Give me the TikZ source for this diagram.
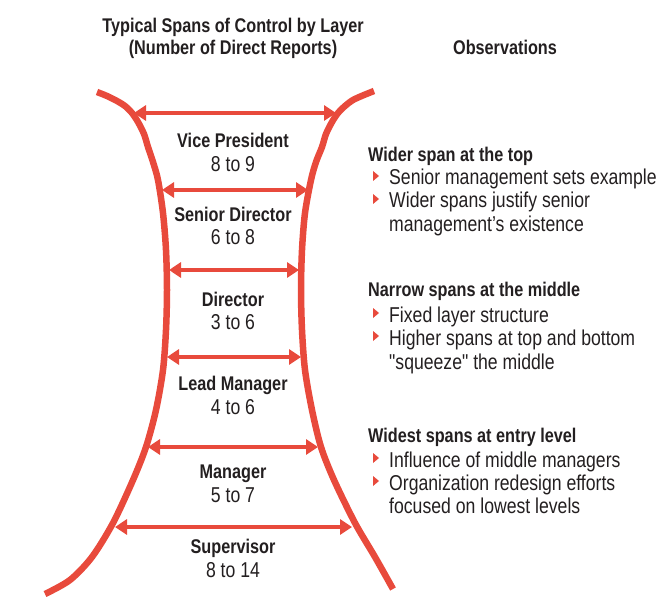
\documentclass[tikz,border=0pt]{standalone}
\usepackage{fontspec}
\setmainfont{Liberation Sans}[FakeStretch=0.82,Ligatures=TeXOff]
\usetikzlibrary{arrows.meta}
\definecolor{spanred}{RGB}{232,74,60}
\definecolor{ink}{RGB}{35,31,32}

\begin{document}
\begin{tikzpicture}[x=1pt,y=-1pt,
  every node/.append style={inner sep=0pt,text=ink},
  hull/.style={draw=spanred,line width=6.5pt},
  span/.style={draw=spanred,line width=4.5pt,{Triangle[length=12pt,width=15pt]}-{Triangle[length=12pt,width=15pt]}},
  lbl/.style={anchor=base,font=\fontsize{19.8}{22}\selectfont\bfseries},
  num/.style={anchor=base,font=\fontsize{21.5}{24}\selectfont},
  head/.style={anchor=base west,font=\fontsize{19.8}{22}\selectfont\bfseries},
  item/.style={anchor=base west,font=\fontsize{21.5}{24}\selectfont},
  bul/.pic={\fill[spanred] (0,-5) -- (6,0) -- (0,5) -- cycle;}]
  \useasboundingbox (0,0) rectangle (663,601);

  % titles
  \node[lbl] (title) at (233,33) {Typical Spans of Control by Layer};
  \node[lbl] (subtitle) at (233,55) {(Number of Direct Reports)};
  \node[lbl] (obs) at (505,55) {Observations};

  % the two walls
  \draw[hull] plot[smooth] coordinates {(97,92) (107,96) (117,101) (125,106) (132,113)
    (138,122) (144,134) (148,147) (153,162) (158,180) (163,213) (166,250) (167,290)
    (166,330) (163,370) (156,410) (146,447) (133,480) (113,523) (92,557) (70,580) (45,594)};
  \draw[hull] plot[smooth] coordinates {(374,91) (364,95) (353,100) (345,106) (338,113)
    (332,122) (326,134) (322,147) (316,162) (311,180) (305,213) (302,250) (301,290)
    (302,330) (305,370) (312,410) (321,447) (334,480) (355,523) (375,557) (393,589)};

  % ends of the spans on both walls
  \coordinate (L1) at (134,113); \coordinate (R1) at (336,113);
  \coordinate (L2) at (162,190); \coordinate (R2) at (308,190);
  \coordinate (L3) at (169,270); \coordinate (R3) at (299,270);
  \coordinate (L4) at (167,357); \coordinate (R4) at (301,357);
  \coordinate (L5) at (148,447); \coordinate (R5) at (318,447);
  \coordinate (L6) at (115,527); \coordinate (R6) at (352,527);

  \draw[span] (L1) -- (R1);
  \draw[span] (L2) -- (R2);
  \draw[span] (L3) -- (R3);
  \draw[span] (L4) -- (R4);
  \draw[span] (L5) -- (R5);
  \draw[span] (L6) -- (R6);

  % layers
  \node[lbl] (vp) at (233,148) {Vice President};
  \node[num] (vpn) at (233,172) {8 to 9};
  \node[lbl] (sd) at (233,222) {Senior Director};
  \node[num] (sdn) at (233,245) {6 to 8};
  \node[lbl] (dir) at (233,306) {Director};
  \node[num] (dirn) at (233,329) {3 to 6};
  \node[lbl] (lm) at (233,390) {Lead Manager};
  \node[num] (lmn) at (233,414) {4 to 6};
  \node[lbl] (mgr) at (233,478) {Manager};
  \node[num] (mgrn) at (233,502) {5 to 7};
  \node[lbl] (sup) at (233,553) {Supervisor};
  \node[num] (supn) at (233,577) {8 to 14};

  % observations
  \node[head] (top) at (368,162) {Wider span at the top};
  \pic at (373,176) {bul};
  \node[item] (top1) at (389,185) {Senior management sets example};
  \pic at (373,199) {bul};
  \node[item] (top2) at (389,208) {Wider spans justify senior};
  \node[item] (top2b) at (389,232) {management’s existence};

  \node[head] (mid) at (368,297) {Narrow spans at the middle};
  \pic at (373,313) {bul};
  \node[item] (mid1) at (389,322) {Fixed layer structure};
  \pic at (373,336) {bul};
  \node[item] (mid2) at (389,345) {Higher spans at top and bottom};
  \node[item] (mid2b) at (389,369) {"squeeze" the middle};

  \node[head] (low) at (368,442) {Widest spans at entry level};
  \pic at (373,458) {bul};
  \node[item] (low1) at (389,467) {Influence of middle managers};
  \pic at (373,481) {bul};
  \node[item] (low2) at (389,490) {Organization redesign efforts};
  \node[item] (low2b) at (389,513) {focused on lowest levels};
\end{tikzpicture}
\end{document}
